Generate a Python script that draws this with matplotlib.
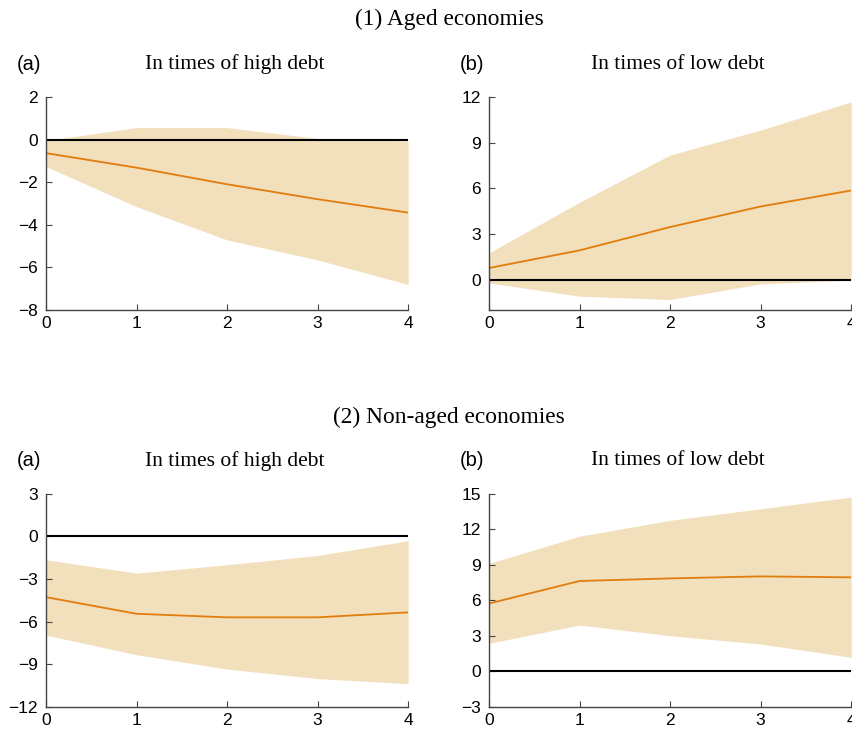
import matplotlib
matplotlib.use("Agg")
import matplotlib.pyplot as plt
import numpy as np

# =========================
# DATA
# =========================
horizon = [0, 1, 2, 3, 4]

# (1) Aged economies
aged_high_mid = [-0.64, -1.32, -2.10, -2.80, -3.43]
aged_high_up = [-0.05, 0.56, 0.56, 0.05, -0.07]
aged_high_lo = [-1.27, -3.15, -4.71, -5.65, -6.80]

aged_low_mid = [0.76, 1.92, 3.45, 4.80, 5.85]
aged_low_up = [1.75, 5.08, 8.18, 9.82, 11.67]
aged_low_lo = [-0.22, -1.09, -1.31, -0.28, -0.04]

# (2) Non-aged economies
young_high_mid = [-4.27, -5.44, -5.69, -5.69, -5.34]
young_high_up = [-1.64, -2.58, -1.99, -1.34, -0.30]
young_high_lo = [-6.94, -8.32, -9.33, -10.00, -10.36]

young_low_mid = [5.74, 7.64, 7.86, 8.03, 7.95]
young_low_up = [9.12, 11.42, 12.76, 13.74, 14.72]
young_low_lo = [2.38, 3.92, 3.02, 2.32, 1.20]

section_titles = ["(1) Aged economies", "(2) Non-aged economies"]
panel_titles = ["In times of high debt", "In times of low debt"]
panel_tags = ["(a)", "(b)"]

# =========================
# STYLE
# =========================
FILL = "#f2dfbb"
LINE = "#e27c0c"
SANS = "Liberation Sans"
SERIF = "Liberation Serif"

fig = plt.figure(figsize=(8.52, 7.30), dpi=100)

panels = [
    # left, bottom, ylim, yticks, mid, up, lo
    (0.054, 0.5753, (-8, 2), [-8, -6, -4, -2, 0, 2], aged_high_mid, aged_high_up, aged_high_lo),
    (0.574, 0.5753, (-2, 12), [0, 3, 6, 9, 12], aged_low_mid, aged_low_up, aged_low_lo),
    (0.054, 0.0315, (-12, 3), [-12, -9, -6, -3, 0, 3], young_high_mid, young_high_up, young_high_lo),
    (0.574, 0.0315, (-3, 15), [-3, 0, 3, 6, 9, 12, 15], young_low_mid, young_low_up, young_low_lo),
]

for i, (left, bottom, ylim, yticks, mid, up, lo) in enumerate(panels):
    ax = fig.add_axes([left, bottom, 0.425, 0.292])
    ax.fill_between(horizon, lo, up, color=FILL, lw=0, zorder=1)
    ax.axhline(0, color="black", lw=1.5, zorder=2)
    ax.plot(horizon, mid, color=LINE, lw=1.3, zorder=3)

    ax.set_xlim(0, 4)
    ax.set_ylim(*ylim)
    ax.set_xticks(horizon)
    ax.set_yticks(yticks)
    ax.set_yticklabels([str(t).replace("-", "\u2212") for t in yticks])
    for s in ["top", "right"]:
        ax.spines[s].set_visible(False)
    for s in ["left", "bottom"]:
        ax.spines[s].set_color("#444444")
        ax.spines[s].set_linewidth(1.0)
        ax.spines[s].set_zorder(4)
    ax.tick_params(direction="in", length=4, width=0.8, color="#444444",
                   labelsize=12.5)
    ax.tick_params(axis="y", pad=6)
    ax.tick_params(axis="x", pad=4)
    for lab in ax.get_xticklabels() + ax.get_yticklabels():
        lab.set_fontfamily(SANS)

    col = i % 2
    top_y = bottom + 0.292
    fig.text(left - 0.034, top_y + 0.045, panel_tags[col], fontsize=14.5,
             fontfamily=SANS, ha="left", va="center")
    fig.text(left + 0.2212, top_y + 0.045, panel_titles[col], fontsize=15.5,
             fontfamily=SERIF, ha="center", va="center")

fig.text(0.527, 0.974, section_titles[0], fontsize=16.8, fontfamily=SERIF,
         ha="center", va="center")
fig.text(0.527, 0.4285, section_titles[1], fontsize=16.8, fontfamily=SERIF,
         ha="center", va="center")

fig.savefig("out.png", dpi=100)
